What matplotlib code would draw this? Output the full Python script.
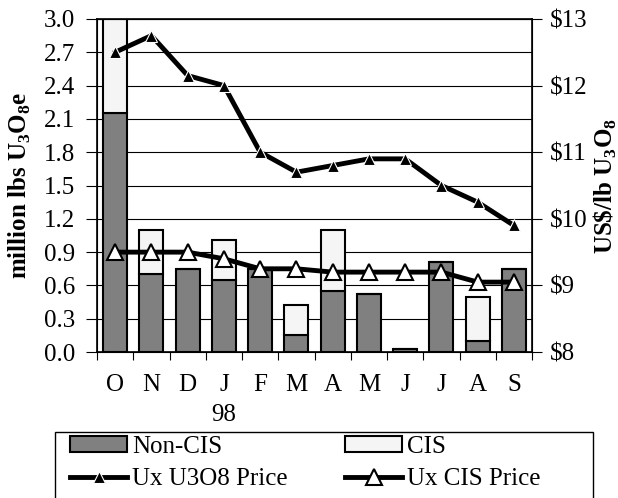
import numpy as np
import matplotlib
matplotlib.use('Agg')
import matplotlib.pyplot as plt
from matplotlib.patches import Rectangle

plt.rcParams['font.family'] = ['Liberation Serif', 'DejaVu Serif']
plt.rcParams['mathtext.fontset'] = 'custom'
plt.rcParams['mathtext.rm'] = 'Liberation Serif'
plt.rcParams['mathtext.bf'] = 'Liberation Serif:bold'

months = ['O', 'N', 'D', 'J', 'F', 'M', 'A', 'M', 'J', 'J', 'A', 'S']
non_cis = [2.15, 0.70, 0.75, 0.65, 0.75, 0.15, 0.55, 0.52, 0.03, 0.81, 0.10, 0.75]
cis = [0.85, 0.40, 0.0, 0.36, 0.0, 0.27, 0.55, 0.0, 0.0, 0.0, 0.40, 0.0]
u3o8_price = [12.5, 12.75, 12.15, 12.0, 11.0, 10.7, 10.8, 10.9, 10.9, 10.5, 10.25, 9.9]
cis_price = [9.5, 9.5, 9.5, 9.4, 9.25, 9.25, 9.2, 9.2, 9.2, 9.2, 9.05, 9.05]

x = np.arange(len(months))
fs = 18

fig = plt.figure(figsize=(6.18, 4.98), dpi=100)
ax = fig.add_axes([0.157, 0.293, 0.704, 0.669])

ax.set_axisbelow(True)
ax.yaxis.grid(True, color='black', linewidth=0.8)
b1 = ax.bar(x, non_cis, width=0.66, color='#808080', edgecolor='black', linewidth=1.5, label='Non-CIS')
b2 = ax.bar(x, cis, width=0.66, bottom=non_cis, color='#f5f5f5', edgecolor='black', linewidth=1.5, label='CIS')
ax.set_xlim(-0.5, 11.5)
ax.set_ylim(0, 3.0)
ax.set_yticks(np.arange(0, 3.01, 0.3))
ax.set_yticklabels(['%.1f' % v for v in np.arange(0, 3.01, 0.3)], fontsize=fs)
ax.set_xticks(np.arange(-0.5, 12, 1))
ax.set_xticklabels([])
ax.tick_params(axis='x', length=6, direction='out')
ax.tick_params(axis='y', length=8, direction='out', pad=8)
for i, m in enumerate(months):
    ax.text(i, -0.20, m, ha='center', va='top', fontsize=fs)
ax.text(3, -0.47, '98', ha='center', va='top', fontsize=fs)
ax.set_ylabel(r'million lbs U$_\mathbf{3}$O$_\mathbf{8}$e', fontsize=fs, fontweight='bold')
ax.yaxis.set_label_coords(-0.147, 0.5)
for s in ax.spines.values():
    s.set_linewidth(1.2)

ax2 = ax.twinx()
l1, = ax2.plot(x, u3o8_price, '-', color='black', linewidth=3.5, marker='^', markersize=8,
               markerfacecolor='black', markeredgecolor='white', markeredgewidth=0.8, label='Ux U3O8 Price')
l2, = ax2.plot(x, cis_price, '-', color='black', linewidth=3.5, marker='^', markersize=12,
               markerfacecolor='white', markeredgecolor='black', markeredgewidth=1.5, label='Ux CIS Price')
ax2.set_ylim(8, 13)
ax2.set_yticks([8, 9, 10, 11, 12, 13])
ax2.set_yticklabels(['$%d' % v for v in [8, 9, 10, 11, 12, 13]], fontsize=fs)
ax2.tick_params(axis='y', length=7, direction='out', pad=6)
ax2.set_ylabel(r'US\$/lb U$_\mathbf{3}$O$_\mathbf{8}$', fontsize=fs, fontweight='bold')
ax2.yaxis.set_label_coords(1.138, 0.5)

fig.patches.append(Rectangle((55 / 618, -0.01), 538 / 618, 66 / 498 + 0.01,
                             transform=fig.transFigure, facecolor='none',
                             edgecolor='black', linewidth=1.0))
leg = fig.legend([b1, l1, b2, l2], ['Non-CIS', 'Ux U3O8 Price', 'CIS', 'Ux CIS Price'],
                 ncol=2, loc='upper left', bbox_to_anchor=(70 / 618, 1 - 436 / 498),
                 fontsize=fs, frameon=False, handlelength=2.28, handleheight=0.6,
                 handletextpad=0.2, borderpad=0.0, borderaxespad=0.0,
                 labelspacing=0.4, columnspacing=2.3)

fig.savefig('out.png', dpi=100)
